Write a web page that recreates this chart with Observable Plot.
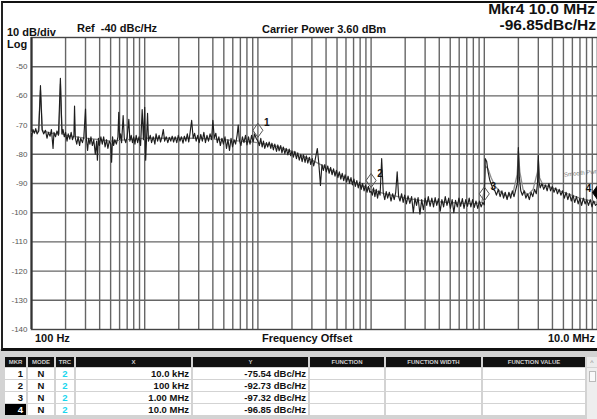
<!DOCTYPE html>
<html><head><meta charset="utf-8">
<script src="https://cdn.jsdelivr.net/npm/d3@7"></script>
<script src="https://cdn.jsdelivr.net/npm/@observablehq/plot@0.6"></script>
<style>
body{margin:0;width:597px;height:419px;overflow:hidden;background:#d3d3d3;font-family:"Liberation Sans",Arial,sans-serif;position:relative}
#chart{position:absolute;left:0;top:0;width:597px;height:349px;background:#fff}
#chart svg{position:absolute;left:0;top:0}
.t{position:absolute;font-weight:bold;color:#111;white-space:nowrap;line-height:1}
.cell{position:absolute;box-sizing:border-box;white-space:nowrap;overflow:hidden;line-height:1}
</style></head><body>
<div id="chart"></div>
<div id="table"></div>
<script>
// ---- data ----
const noiseFreq = [100,103,106,109,112,116,120,124,128,133,137,141,146,150,155,158,163,168,173,180,186,190,195,200,206,211,218,224,230,237,240,244,251,258,266,272,282,290,300,306,313,320,328,335,345,355,366,376,382,390,398,410,422,434,447,460,473,487,501,510,520,531,545,562,580,590,600,612,625,645,660,680,700,724,740,760,780,800,820,841,866,891,920,950,975,1000,1020,1040,1060,1080,
1120,1150,1190,1230,1260,1300,1340,1380,1420,1460,1500,1550,1600,1650,1700,1750,1800,1860,1920,1980,2050,2110,2180,2240,2310,2380,2450,2520,2600,2680,2760,2850,2940,3030,3130,3230,3330,3440,3550,3660,3780,3900,4000,4120,4250,4380,4520,4660,4810,4960,5120,5280,5440,5610,5790,5970,6160,6350,6550,6700,6850,7080,7300,7530,7770,8010,8260,8520,8790,9070,9350,9650,10000,
10300,10600,10900,11200,11500,11900,12200,12600,13000,13300,13700,14100,14600,15000,15400,15900,16300,16800,17300,17800,18400,18900,19500,20000,20600,21200,21900,22500,23200,23900,24600,25300,26100,26800,27600,28500,29300,30200,31100,32000,33500,34500,35700,36800,37900,39000,40200,41400,42600,43900,45200,46600,48000,49400,50900,52400,54000,55600,57300,59000,60800,62600,64500,66400,68400,70500,72600,74800,77000,79300,81700,84100,86700,89300,92000,94700,97500,100000,
102600,105000,108000,111000,114000,117000,120000,124000,128000,132000,136000,140000,145000,150000,155000,160000,165000,170000,175000,180000,186000,192000,198000,205000,212000,220000,228000,236000,244000,252000,260000,270000,280000,290000,300000,310000,320000,332000,344000,356000,368000,380000,394000,408000,422000,437000,452000,468000,485000,502000,520000,538000,557000,577000,597000,618000,640000,662000,686000,710000,735000,761000,788000,816000,845000,875000,906000,938000,970000,1000000,
1020000,1050000,1080000,1120000,1160000,1200000,1240000,1280000,1330000,1380000,1430000,1480000,1530000,1590000,1650000,1710000,1770000,1830000,1900000,1960000,2000000,2040000,2100000,2170000,2250000,2330000,2410000,2500000,2590000,2680000,2780000,2880000,2950000,3000000,3050000,3120000,3230000,3350000,3470000,3590000,3720000,3850000,3990000,4130000,4280000,4430000,4590000,4750000,4920000,5100000,5280000,5470000,5660000,5870000,6080000,6290000,6520000,6750000,6990000,7240000,7500000,7770000,8040000,8330000,8630000,8940000,9260000,9590000,10000000];
const noiseDb = [-74,-71.5,-72.8,-71.2,-73,-72,-56.5,-71.5,-73,-71.8,-74.5,-72.5,-73.8,-71.5,-78,-72.5,-74,-72,-73.5,-54,-73,-71.5,-74,-72.5,-75.5,-73,-74.8,-72.5,-75,-73.5,-63.5,-74.5,-76.5,-74,-77,-74.5,-76,-74,-64.5,-75,-78.7,-74.5,-76.5,-74,-77,-75,-80,-75.5,-82,-74.5,-77,-74,-76.5,-74,-77.5,-75,-78,-75.5,-76.5,-82.7,-74,-77,-75,-76.5,-74,-65.6,-75,-73,-76,-66.7,-74.5,-76,-74,-68,-75.5,-73.5,-76,-74,-76.5,-73.5,-76,-74,-77,-64.7,-75,-63.9,-82,-74,-66,-75.5,
-73.5,-76,-74,-76.5,-73,-75.5,-73.5,-75.8,-74,-71.5,-75.5,-74,-76,-74.2,-75.5,-73.8,-75.8,-74,-76,-73.5,-75.5,-74,-76.2,-73.8,-75.5,-73,-75.8,-72.5,-68.4,-74.5,-72.8,-75.5,-73.5,-76,-73.2,-75.5,-72.5,-76,-73.5,-75.5,-73,-75,-68.4,-74.5,-72.8,-76,-74,-77,-74.5,-76.5,-74,-78,-75,-78.7,-74.5,-77.5,-75,-76.5,-73.5,-70,-75,-77,-74,-76,-73.5,-76.8,-74,-76.5,-73.5,-75.8,-73,-74.5,-75.5,
-77,-74.5,-77.5,-75.5,-78,-76,-77.5,-75.8,-78,-76.2,-78.5,-76.5,-79,-76.8,-78.8,-77,-79.5,-77.5,-79.8,-78,-80.2,-78.2,-80.5,-78.8,-81,-79,-81.5,-79.5,-82,-80,-82.5,-80.2,-82.8,-80.5,-83,-81,-83.5,-81.5,-84,-82,-78,-83,-90.7,-83.5,-85.5,-83.5,-86,-84,-86.5,-84.5,-87,-85,-87.5,-85.5,-88,-86,-88.5,-86.5,-89,-87,-89.5,-87.5,-90,-88,-90.5,-88.5,-91,-89,-91.5,-89.5,-92,-90,-92.5,-90.5,-93,-91,-93,-92.7,
-94,-91.5,-94.5,-92,-95,-92.5,-94,-81.5,-93,-95.5,-92.8,-95,-93,-96,-93.5,-95.5,-93,-86,-94.5,-96,-93.5,-96.5,-94,-97,-94.2,-96.8,-94.5,-100,-95,-97.5,-94.8,-100.5,-95.5,-99,-95,-97.5,-94.5,-97.8,-95,-98,-94.8,-97.5,-95.2,-99.5,-95.5,-98,-94.5,-97.5,-95,-98.5,-95.5,-100,-95.8,-98,-95,-97.8,-95.2,-98.5,-95.5,-97.8,-95,-98,-95.5,-98.2,-96,-98.5,-96,-98,-96.5,-97.3,
-81.5,-82.5,-86,-89,-90.5,-92,-92.5,-94,-92,-94.5,-92.5,-95,-93,-95.5,-93,-95,-92.5,-94.5,-92,-90,-77.7,-88,-92.5,-94,-92.5,-95,-93.5,-95.5,-93,-94.5,-92,-93.5,-90,-80.4,-89.5,-91.5,-90,-92,-90.5,-92.5,-90,-92.5,-91,-93,-91.5,-93.5,-92,-94,-92.5,-95,-93,-95.5,-93.5,-96,-94,-96.5,-94.5,-97,-95,-97.5,-95,-97,-95.5,-97.5,-95.5,-98,-96,-97.5,-96.85];

const smoothFreq = [100,115,120,125,160,175,180,186,200,250,300,400,500,700,1000,1500,2000,3000,5000,7000,10000,14000,20000,30000,40000,50000,70000,100000,130000,200000,300000,500000,800000,950000,990000,1020000,1080000,1150000,1250000,1400000,1600000,1800000,1950000,2000000,2060000,2200000,2400000,2700000,2950000,3000000,3080000,3300000,4000000,5000000,7000000,10000000];
const smoothDb = [-72.5,-72,-58,-72,-73,-73,-56,-73,-73.5,-74,-74.5,-75,-75.5,-75,-74.5,-74.5,-74.5,-74.5,-75,-75.5,-76,-77,-79,-82,-84.5,-86.5,-89.5,-92,-93.5,-95,-96,-96.5,-97,-96.5,-93,-84,-85,-88,-91,-93,-94.5,-93,-87,-79,-86,-92,-94,-92,-86,-82,-88,-90.5,-91.5,-93,-95,-96.5];

const markerNum = ["1","2","3","4"];
const markerMode = ["N","N","N","N"];
const markerTrc = ["2","2","2","2"];
const markerFreq = [1e4, 1e5, 1e6, 1e7];
const markerDb = [-75.54, -92.73, -97.32, -96.85];
const markerXText = ["10.0 kHz","100 kHz","1.00 MHz","10.0 MHz"];
const markerYText = ["-75.54 dBc/Hz","-92.73 dBc/Hz","-97.32 dBc/Hz","-96.85 dBc/Hz"];
const tableHeaders = ["MKR","MODE","TRC","X","Y","FUNCTION","FUNCTION WIDTH","FUNCTION VALUE"];

const yTicks = [-50,-60,-70,-80,-90,-100,-110,-120,-130,-140];
const gridDb = [-50,-60,-70,-80,-90,-100,-110,-120,-130];
const decades = [100,1000,10000,100000,1000000];
const gridFreqs = decades.flatMap(d => [1,2,3,4,5,6,7,8,9].map(k => d*k)).concat([1e7]);

// ---- plot ----
const noise = noiseFreq.map((f,i)=>({f, v: noiseDb[i]}));
const smooth = smoothFreq.map((f,i)=>({f, v: smoothDb[i]}));
const marks = markerFreq.map((f,i)=>({f, v: markerDb[i], n: markerNum[i]}));

const tallDiamond = {draw(ctx){ctx.moveTo(0,-18);ctx.lineTo(5,-11);ctx.lineTo(0,-4);ctx.lineTo(-5,-11);ctx.closePath();}};

const plot = Plot.plot({
  width: 597, height: 349,
  marginLeft: 31, marginRight: 0, marginTop: 37, marginBottom: 20,
  x: {type: "log", domain: [100, 1e7], axis: null},
  y: {domain: [-140, -40], axis: null},
  style: {background: "transparent", fontFamily: "Liberation Sans, Arial, sans-serif", overflow: "visible"},
  marks: [
    Plot.ruleX(gridFreqs, {stroke: "#666", strokeWidth: 1.4}),
    Plot.ruleY(gridDb, {stroke: "#666", strokeWidth: 1.4}),
    Plot.frame({stroke: "#444", strokeWidth: 1.4}),
    Plot.ruleX([100], {stroke: "#333", strokeWidth: 2}),
    Plot.axisY({ticks: yTicks, tickSize: 0, tickPadding: 4, fontSize: 8, fill: "#555", tickFormat: d => String(d), label: null}),
    Plot.line(smooth, {x: "f", y: "v", stroke: "#8c8c8c", strokeWidth: 1.3}),
    Plot.line(noise, {x: "f", y: "v", stroke: "#1e1e1e", strokeWidth: 1.15}),
    Plot.dot(marks.slice(0,3), {x: "f", y: "v", symbol: tallDiamond, r: 5, stroke: "#555", fill: "none", strokeWidth: 1}),
    Plot.dot(marks.slice(3), {x: "f", y: "v", symbol: tallDiamond, r: 5, stroke: "#000", fill: "#000", strokeWidth: 1}),
    Plot.text(marks.slice(0,3), {x: "f", y: "v", text: "n", dx: 9, dy: -18, fontSize: 10, fontWeight: "bold", fill: "#111"}),
    Plot.text(marks.slice(3), {x: "f", y: "v", text: "n", dx: -9, dy: -15, fontSize: 10, fontWeight: "bold", fill: "#111"})
  ]
});
const chart = document.getElementById("chart");
chart.appendChild(plot);

function addText(txt, css){const d=document.createElement("div");d.className="t";d.textContent=txt;Object.assign(d.style,css);chart.appendChild(d);return d;}
addText("10 dB/div",{left:"7px",top:"27px",fontSize:"11px"});
addText("Log",{left:"7px",top:"39px",fontSize:"11px"});
addText("Ref  -40 dBc/Hz",{left:"77px",top:"23px",fontSize:"11px",whiteSpace:"pre"});
addText("Carrier Power 3.60 dBm",{left:"262px",top:"24px",fontSize:"11px"});
addText("Mkr4 10.0 MHz",{right:"2px",top:"1px",fontSize:"15.5px"});
addText("-96.85dBc/Hz",{right:"1px",top:"17px",fontSize:"15.5px"});
addText("100 Hz",{left:"35px",top:"333px",fontSize:"11px"});
addText("Frequency Offset",{left:"262px",top:"333px",fontSize:"11px"});
addText("10.0 MHz",{right:"2px",top:"333px",fontSize:"11px"});
addText("Smooth Pwr",{left:"564px",top:"170px",fontSize:"6px",color:"#777",fontWeight:"normal",transform:"rotate(-6deg)"});
// borders of the chart box
const b=document.createElement("div");
Object.assign(b.style,{position:"absolute",left:"1px",top:"1px",width:"600px",height:"345px",borderTop:"2px solid #111",borderLeft:"2px solid #222",borderBottom:"3px solid #111"});
chart.appendChild(b);

// ---- table ----
const table = document.getElementById("table");
const colL = [4,27,55,75,192,309,385,482];
const colR = [27,55,75,192,309,385,482,586];
function cell(css, txt){const d=document.createElement("div");d.className="cell";if(txt!==undefined)d.textContent=txt;Object.assign(d.style,css);table.appendChild(d);return d;}
tableHeaders.forEach((h,j)=>{
  cell({left:(colL[j]+1)+"px",top:"357px",width:(colR[j]-colL[j]-2)+"px",height:"10px",background:"#111",color:"#cfcfcf",fontSize:"6px",fontWeight:"bold",textAlign:"center",paddingTop:"2px"}, h);
});
cell({left:"587px",top:"357px",width:"10px",height:"10px",background:"#ececec",color:"#888",fontSize:"7px",textAlign:"center",paddingTop:"2px"},"^");
cell({left:"587px",top:"368px",width:"10px",height:"51px",background:"#eeeeee"});
cell({left:"589px",top:"371px",width:"7px",height:"11px",background:"#fafafa",border:"1px solid #bbb"});
const rowTop=[368,380,392,404];
markerNum.forEach((n,i)=>{
  const vals=[n,markerMode[i],markerTrc[i],markerXText[i],markerYText[i],"","",""];
  vals.forEach((v,j)=>{
    const css={left:(colL[j]+1)+"px",top:rowTop[i]+"px",width:(colR[j]-colL[j]-2)+"px",height:"11px",background:"#fff",color:"#111",fontSize:"9.5px",fontWeight:"bold",paddingTop:"1px"};
    if(j===0){css.textAlign="right";css.paddingRight="3px";if(i===3){css.background="#000";css.color="#fff";}}
    else if(j===1||j===2){css.textAlign="center";if(j===2)css.color="#19d6ee";}
    else {css.textAlign="right";css.paddingRight="2px";}
    cell(css,v);
  });
});
</script>
</body></html>
